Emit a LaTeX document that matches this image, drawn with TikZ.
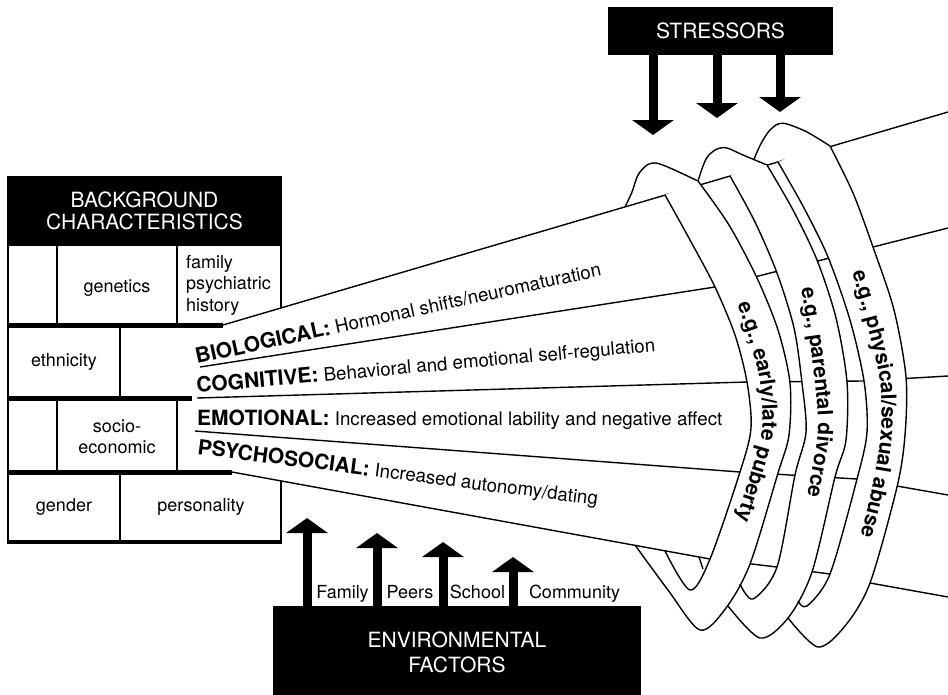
\documentclass[tikz,border=0pt]{standalone}
\usepackage{fontspec}
\setmainfont{TeX Gyre Heros}
\usetikzlibrary{arrows.meta,decorations.text}

\newcommand{\headfont}{\fontsize{21}{22}\selectfont}
\newcommand{\cellfont}{\fontsize{18}{21.5}\selectfont}
\newcommand{\catfont}{\fontsize{21}{24}\selectfont\bfseries}
\newcommand{\descfont}{\fontsize{18.7}{22}\selectfont}
\newcommand{\bandfont}{\fontsize{21}{24}\selectfont\bfseries}

\tikzset{
  blackbox/.style={fill=black, text=white, inner sep=0pt, align=center, font=\headfont},
  celltext/.style={inner sep=0pt, align=center, font=\cellfont},
  catlabel/.style={inner sep=0pt, anchor=base west, font=\descfont},
  boxline/.style={line width=2.8pt},
  barline/.style={line width=5pt},
  coneline/.style={line width=1.4pt},
  ringline/.style={line width=1.4pt, line join=round},
  bigarrow/.style={line width=9pt, -{Triangle[width=41pt, length=15pt]}},
  bandtext/.style={decorate, decoration={text along path, text align=left, text={|\bandfont|#1}}}
}

\begin{document}
\begin{tikzpicture}[x=1pt, y=-1pt]
\useasboundingbox (0,0) rectangle (948,694);
\pgfmathsetmacro{\bl}{8} % box left
\pgfmathsetmacro{\br}{281} % box right

% background characteristics
\node[blackbox, draw=black, boxline, minimum width=273pt, minimum height=68pt, font=\fontsize{21}{21.5}\selectfont] (background) at (144.5,211) {BACKGROUND\\CHARACTERISTICS};
\draw[boxline] (\bl,245) -- (\bl,542); % left side
\draw[boxline] (\br,245) -- (\br,325); % right side, first row
\draw[boxline] (\br,472) -- (\br,542); % right side, last row
\draw[line width=4.5pt] (\bl-1.4,542) -- (\br+1.4,542); % bottom
\foreach \xv in {57,177}
{
 \draw[boxline] (\xv,245) -- (\xv,325); % genetics row
 \draw[boxline] (\xv,398) -- (\xv,472); % socio-economic row
}
\draw[boxline] (120,325) -- (120,398); % ethnicity row
\draw[boxline] (120,472) -- (120,542); % gender row
\draw[barline] (\bl,325) -- (223,325);
\draw[barline] (\bl,398) -- (192,398);
\draw[barline] (\bl,472) -- (232,472);

\node[celltext] (genetics) at (117,288) {genetics};
\node[celltext, align=left, anchor=west] (history) at (186,285) {family\\psychiatric\\history};
\node[celltext] (ethnicity) at (64,362) {ethnicity};
\node[celltext] (socio) at (117,437) {socio-\\economic};
\node[celltext] (gender) at (64,507) {gender};
\node[celltext] (personality) at (201,507) {personality};

% rings, back parts (ring 3 first)
\fill[white] plot[smooth] coordinates {(750,170) (757,152) (763,140) (770,130) (778,124) (787,124) (807,132) (830,146)}
 -- plot[smooth] coordinates {(830,146) (853,193) (873,247) (894,310) (906,377) (905,435) (897,487) (870,583) (845,626) (818,647) (788,618)}
 -- plot[smooth] coordinates {(798,601) (807,606) (830,574) (857,479) (867,432) (864,381) (850,320) (828,257) (804,208) (778,162)} -- cycle;
\draw[ringline] plot[smooth] coordinates {(750,170) (757,152) (763,140) (770,130) (778,124) (787,124) (807,132) (830,146)}; % hump 3

\fill[white] plot[smooth] coordinates {(698,181) (703,166) (708,156) (717,149) (727,148) (743,155) (767,165)}
 -- plot[smooth] coordinates {(767,165) (793,210) (817,260) (836,318) (847,382) (846,440) (835,477) (812,572) (788,618) (760,638) (728,606)}
 -- plot[smooth] coordinates {(740,584) (753,599) (777,567) (795,475) (806,432) (802,383) (794,328) (777,273) (755,222) (730,176)} -- cycle;
\draw[ringline] plot[smooth] coordinates {(698,181) (703,166) (708,156) (717,149) (727,148) (743,155) (767,165)}; % hump 2

\fill[white] plot[smooth] coordinates {(625,207) (632,192) (638,175) (647,165) (656,163) (670,168) (698,181)}
 -- plot[smooth] coordinates {(698,181) (729,225) (757,278) (778,330) (790,383) (789,435) (778,473) (750,564) (726,608) (700,630) (668,590) (635,545)}
 -- plot[smooth] coordinates {(665,551) (690,590) (710,559) (740,472) (751,428) (747,382) (735,335) (715,287) (690,240) (665,195)} -- cycle;
\draw[ringline] plot[smooth] coordinates {(625,207) (632,192) (638,175) (647,165) (656,163) (670,168) (698,181)}; % hump 1

% developmental cone
\fill[white] (223,325) -- (948,112) -- (948,597) -- (870,583) -- (830,574) -- (777,567) -- (710,559) -- (232,472) -- cycle;
\draw[coneline] (223,325) -- (948,112); % top
\draw[coneline] (200,367) -- (715,287) -- (948,228); % biological / cognitive
\draw[coneline] (197,398) -- (747,382) -- (863,381) -- (948,376); % cognitive / emotional
\draw[coneline] (195,431) -- (740,472) -- (857,479) -- (948,495); % emotional / psychosocial
\draw[coneline] (232,472) -- (710,559) -- (777,567) -- (830,574) -- (870,583) -- (948,597); % bottom

% rings, front bands
\fill[white] plot[smooth] coordinates {(778,162) (804,208) (828,257) (850,320) (864,381) (867,432) (857,479) (830,574)}
 -- (825,583) -- (865,591)
 -- plot[smooth] coordinates {(870,583) (897,487) (905,435) (906,377) (894,310) (873,247) (853,193) (830,146)} -- (804,151) -- cycle;
\draw[ringline] plot[smooth] coordinates {(778,162) (804,208) (828,257) (850,320) (864,381) (867,432) (857,479) (830,574) (807,606) (798,601)};
\draw[ringline] plot[smooth] coordinates {(830,146) (853,193) (873,247) (894,310) (906,377) (905,435) (897,487) (870,583) (845,626) (818,647) (788,618)};

\fill[white] plot[smooth] coordinates {(730,176) (755,222) (777,273) (794,328) (802,383) (806,432) (795,475) (777,567)}
 -- (771,576) -- (808,580)
 -- plot[smooth] coordinates {(812,572) (835,477) (846,440) (847,382) (836,318) (817,260) (793,210) (767,165)} -- (748,166.5) -- cycle;
\draw[ringline] plot[smooth] coordinates {(730,176) (755,222) (777,273) (794,328) (802,383) (806,432) (795,475) (777,567) (753,599) (740,584)};
\draw[ringline] plot[smooth] coordinates {(767,165) (793,210) (817,260) (836,318) (847,382) (846,440) (835,477) (812,572) (788,618) (760,638) (728,606)};

\fill[white] plot[smooth] coordinates {(665,195) (690,240) (715,287) (735,335) (747,382) (751,428) (740,472) (710,559)}
 -- (705,568) -- (746,572)
 -- plot[smooth] coordinates {(750,564) (778,473) (789,435) (790,383) (778,330) (757,278) (729,225) (698,181)} -- cycle;
\draw[ringline] plot[smooth] coordinates {(665,195) (690,240) (715,287) (735,335) (747,382) (751,428) (740,472) (710,559) (690,590) (665,551)};
\draw[ringline] plot[smooth] coordinates {(698,181) (729,225) (757,278) (778,330) (790,383) (789,435) (778,473) (750,564) (726,608) (700,630) (668,590) (635,545)};
\draw[ringline] (699,557) -- (703,569);

% stressor examples
\path[bandtext={e.g., early/late puberty}] plot[smooth] coordinates {(737,305) (748,335) (760,382) (762,430) (751,472) (736,520) (722,560) (712,580)};
\path[bandtext={e.g., parental divorce}] plot[smooth] coordinates {(801,288) (808,330) (815,383) (818,430) (811,475) (802,520) (792,560) (785,580)};
\path[bandtext={e.g., physical/sexual abuse}] plot[smooth] coordinates {(852,272) (866,320) (880,381) (881,430) (874,479) (862,530) (850,570) (842,590)};

% domains
\node[catlabel, rotate=12.3] (biological) at (197,364) {{\catfont BIOLOGICAL:} Hormonal shifts/neuromaturation};
\node[catlabel, rotate=5.2] (cognitive) at (197,393) {{\catfont COGNITIVE:} Behavioral and emotional self-regulation};
\node[catlabel] (emotional) at (197,425) {{\catfont EMOTIONAL:} Increased emotional lability and negative affect};
\node[catlabel, rotate=-7.3] (psychosocial) at (197,454) {{\catfont PSYCHOSOCIAL:} Increased autonomy/dating};

% stressors
\node[blackbox, minimum width=225pt, minimum height=48pt] (stressors) at (720.5,31) {STRESSORS};
\coordinate (s1) at (653,135);
\coordinate (s2) at (717,118);
\coordinate (s3) at (780,112);
\foreach \s in {s1,s2,s3}
 \draw[bigarrow] (stressors.south -| \s) -- (\s);

% environmental factors
\node[blackbox, minimum width=368pt, minimum height=92pt, font=\fontsize{21}{25}\selectfont] (env) at (457,652) {ENVIRONMENTAL\\FACTORS};
\coordinate (f1) at (307,518);
\coordinate (f2) at (377,533);
\coordinate (f3) at (443,542);
\coordinate (f4) at (513,557);
\foreach \f in {f1,f2,f3,f4}
 \draw[bigarrow] (env.north -| \f) -- (\f);
\node[celltext, anchor=base] (family) at (342.5,598) {Family};
\node[celltext, anchor=base] (peers) at (410,598) {Peers};
\node[celltext, anchor=base] (school) at (477.5,598) {School};
\node[celltext, anchor=base] (community) at (574.5,598) {Community};

\end{tikzpicture}
\end{document}
